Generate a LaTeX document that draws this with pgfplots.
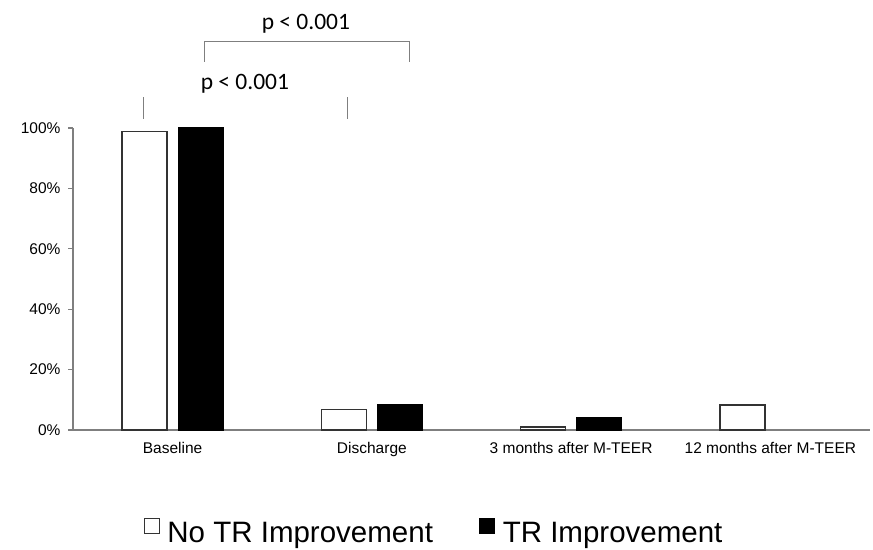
\documentclass[border=0pt]{standalone}
\usepackage{pgfplots}
\pgfplotsset{compat=1.18}
\usepackage{fontspec}
\setmainfont{Liberation Sans}
\newfontfamily\carlito{Carlito}
\definecolor{axgray}{HTML}{7F7F7F}
\begin{document}
\begin{tikzpicture}
\useasboundingbox (0,0) rectangle (873pt,549pt);
\begin{axis}[
  at={(73pt,119pt)}, anchor=south west,
  scale only axis, width=797pt, height=302pt,
  xmin=-0.5, xmax=3.5, ymin=0, ymax=100,
  axis x line=bottom, axis y line=left,
  axis line style={draw=axgray, line width=1.2pt, -},
  xtick={0,1,2,3},
  xticklabels={Baseline, Discharge, 3 months after M-TEER, 12 months after M-TEER},
  x tick style={draw=none},
  ytick={0,20,40,60,80,100},
  yticklabel={\pgfmathprintnumber{\tick}\%},
  y tick style={draw=axgray, line width=1.2pt},
  tick align=outside, major tick length=5pt,
  /pgf/number format/assume math mode=true,
  tick label style={font=\fontsize{15.5}{18}\selectfont, text=black},
  xticklabel style={yshift=-4pt},
  yticklabel style={xshift=-4pt},
  ybar=11pt, bar width=45pt,
  clip=false,
  legend columns=2,
  legend style={at={(0.453,-0.338)}, anchor=center, draw=none, fill=none,
    font=\fontsize{29.5}{34}\selectfont,
    /tikz/every odd column/.append style={column sep=6pt},
    /tikz/every even column/.append style={column sep=44pt}},
  legend image code/.code={\draw[#1, line width=0.8pt] (0pt,0pt) rectangle (15pt,15pt);},
]
\addplot[draw=black!80, fill=white, line width=1.5pt] coordinates {(0,98.8) (1,6.8) (2,1.0) (3,8.2)};
\addlegendentry{No TR Improvement}
\addplot[draw=black, fill=black, line width=1pt] coordinates {(0,100) (1,8.4) (2,4.3)};
\addlegendentry{TR Improvement}
% significance annotations
\draw[axgray, line width=1pt] (axis cs:0.162,121.9) -- (axis cs:0.162,128.8) -- (axis cs:1.191,128.8) -- (axis cs:1.191,121.9);
\draw[axgray, line width=1pt] (axis cs:-0.144,103) -- (axis cs:-0.144,110.3);
\draw[axgray, line width=1pt] (axis cs:0.880,103) -- (axis cs:0.880,110.3);
\node[anchor=base, font=\carlito\fontsize{23.5}{28}\selectfont, inner sep=0pt] at (axis cs:0.669,132.5) {p < 0.001};
\node[anchor=base, font=\carlito\fontsize{23.5}{28}\selectfont, inner sep=0pt] at (axis cs:0.363,112.9) {p < 0.001};
\end{axis}
\end{tikzpicture}
\end{document}
